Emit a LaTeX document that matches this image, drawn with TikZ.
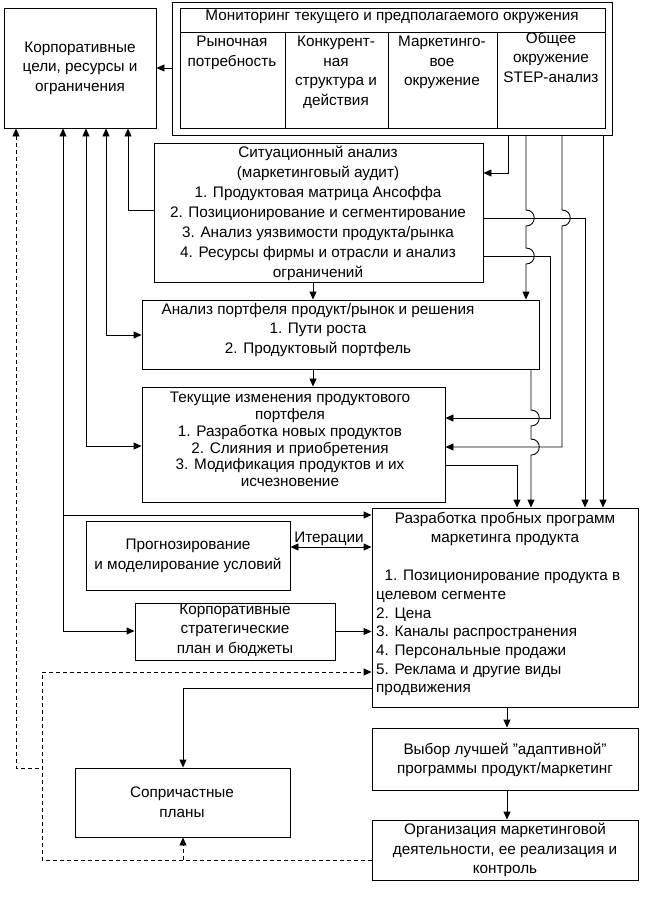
\documentclass[tikz,border=0pt]{standalone}
\usepackage{fontspec}
\setmainfont{Liberation Sans}
\usetikzlibrary{arrows.meta,fit}
\tikzset{
 bx/.style={draw,line width=0.9pt,inner sep=0pt},
 tx/.style={align=center,inner sep=0pt,font=\fontsize{15.3}{19.5}\selectfont},
 ln/.style={line width=0.9pt},
 arr/.style={ln,-{Triangle[length=8,width=7]}},
 rarr/.style={ln,{Triangle[length=8,width=7]}-},
 barr/.style={ln,{Triangle[length=8,width=7]}-{Triangle[length=8,width=7]}},
 dsh/.style={dash pattern=on 4pt off 3pt}
}
\newcommand\mybox[5]{\node[bx,fit={(#2,#3)(#4,#5)}] (#1) {};}
\newcommand\hop[2]{-- (#1,#2-8) .. controls (#1+11,#2-8) and (#1+11,#2+8) .. (#1,#2+8)}
\begin{document}
\begin{tikzpicture}[x=1pt,y=-1pt]
\useasboundingbox (0,0) rectangle (647,898);
% monitoring
\mybox{mon}{172}{2}{612}{135}
\mybox{moni}{180}{8}{605}{128}
\draw[ln] (180,32) -- (605,32);
\foreach \x in {285,388,497} \draw[ln] (\x,32) -- (\x,128);
\node[tx,anchor=north] (mh) at (392,10) {Мониторинг текущего и предполагаемого окружения};
\node[tx,anchor=north] (m1) at (232,36) {Рыночная\\потребность};
\node[tx,anchor=north] (m2) at (336,36) {Конкурент-\\ная\\структура и\\действия};
\node[tx,anchor=north] (m3) at (442,36) {Маркетинго-\\вое\\окружение};
\node[tx,anchor=north] (m4) at (551,32) {Общее\\окружение\\STEP-анализ};
% corp
\mybox{corp}{4}{8}{156}{128}
\node[tx] (corpt) at (80,68) {Корпоративные\\цели, ресурсы и\\ограничения};
% situational
\mybox{sit}{154}{143}{483}{282}
\node[tx,anchor=north,font=\fontsize{15.3}{20}\selectfont] (sitt) at (318,146) {Ситуационный анализ\\(маркетинговый аудит)\\1. Продуктовая матрица Ансоффа\\2. Позиционирование и сегментирование\\3. Анализ уязвимости продукта/рынка\\4. Ресурсы фирмы и отрасли и анализ\\ограничений};
\mybox{ap}{142}{300}{539}{369}
\node[tx,anchor=north] (apt) at (318,303) {Анализ портфеля продукт/рынок и решения\\1. Пути роста\\2. Продуктовый портфель};
\mybox{tek}{142}{387}{445}{502}
\node[tx,anchor=north,font=\fontsize{15.3}{16.8}\selectfont] (tekt) at (290,392) {Текущие изменения продуктового\\портфеля\\1. Разработка новых продуктов\\2. Слияния и приобретения\\3. Модификация продуктов и их\\исчезновение};
\mybox{raz}{372}{508}{638}{707}
\node[tx,anchor=north] (razt) at (505,512) {Разработка пробных программ\\маркетинга продукта};
\node[tx,anchor=north west,align=left,font=\fontsize{15.3}{18.7}\selectfont] (razl) at (376,570) {\ \ 1. Позиционирование продукта в\\целевом сегменте\\ 2. Цена\\ 3. Каналы распространения\\ 4. Персональные продажи\\ 5. Реклама и другие виды\\продвижения};
\mybox{pr}{86}{521}{290}{590}
\node[tx] (prt) at (188,556) {Прогнозирование\\и моделирование условий};
\mybox{cs}{135}{603}{335}{660}
\node[tx] (cst) at (235,630) {Корпоративные\\стратегические\\план и бюджеты};
\mybox{vyb}{372}{728}{638}{790}
\node[tx] (vybt) at (505,760) {Выбор лучшей \char34адаптивной\char34\\программы продукт/маркетинг};
\mybox{sop}{75}{768}{290}{837}
\node[tx] (sopt) at (182,802) {Сопричастные\\планы};
\mybox{org}{372}{820}{638}{880}
\node[tx] (orgt) at (505,850) {Организация маркетинговой\\деятельности, ее реализация и\\контроль};
\node[tx,anchor=south] (it) at (329,546) {Итерации};
% connectors
\draw[arr] (mon.west |- 0,68) -- (corp.east |- 0,68);
\draw[rarr] (corp.south -| 128,0) -- (128,210) -- (sit.west |- 0,210);
\draw[barr] (corp.south -| 106,0) -- (106,335) -- (ap.west |- 0,335);
\draw[barr] (corp.south -| 86,0) -- (86,446) -- (tek.west |- 0,446);
\draw[barr] (corp.south -| 63,0) -- (63,631) -- (cs.west |- 0,631);
\draw[arr] (63,515) -- (raz.west |- 0,515);
\draw[arr] (cs.east) -- (raz.west |- cs.east);
\draw[barr] (pr.east |- 0,547) -- (raz.west |- 0,547);
\draw[arr] (sit.south -| 313,0) -- (ap.north -| 313,0);
\draw[arr] (ap.south -| 313,0) -- (tek.north -| 313,0);
% right side
\draw[arr] (mon.south -| 508,0) -- (508,173) -- (sit.east |- 0,173);
\draw[arr] (mon.south -| 526,0) \hop{526}{218} \hop{526}{256} -- (ap.north -| 526,0);
\draw[arr] (mon.south -| 562,0) \hop{562}{218} -- (562,447) -- (tek.east |- 0,447);
\draw[arr] (mon.south -| 603,0) -- (raz.north -| 603,0);
\draw[arr] (sit.east |- 0,218) -- (585,218) -- (raz.north -| 585,0);
\draw[arr] (sit.east |- 0,256) -- (550,256) -- (550,418) -- (tek.east |- 0,418);
\draw[arr] (ap.south -| 531,0) \hop{531}{418} \hop{531}{447} -- (raz.north -| 531,0);
\draw[arr] (tek.east |- 0,465) -- (517,465) -- (raz.north -| 517,0);
\draw[arr] (raz.south -| 507,0) -- (vyb.north -| 507,0);
\draw[arr] (vyb.south -| 507,0) -- (org.north -| 507,0);
\draw[arr] (raz.west |- 0,688) -- (183,688) -- (sop.north -| 183,0);
% dashed
\draw[rarr,dsh] (corp.south -| 16,0) -- (16,768) -- (42,768);
\draw[arr,dsh] (org.west |- 0,860) -- (42,860) -- (42,672) -- (raz.west |- 0,672);
\draw[arr,dsh] (183,860) -- (sop.south -| 183,0);
\end{tikzpicture}
\end{document}
